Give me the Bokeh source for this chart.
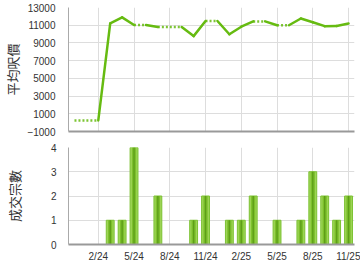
from bokeh.plotting import figure
from bokeh.layouts import column
from bokeh.models import FixedTicker, Range1d, ColumnDataSource
from bokeh.embed import file_html
from bokeh.resources import INLINE

months = ["12/23", "1/24", "2/24", "3/24", "4/24", "5/24", "6/24", "7/24", "8/24", "9/24",
          "10/24", "11/24", "12/24", "1/25", "2/25", "3/25", "4/25", "5/25", "6/25", "7/25",
          "8/25", "9/25", "10/25", "11/25"]
avg_price = [250, 250, 250, 11200, 11880, 11030, 11030, 10800, 10800, 10800,
             9770, 11480, 11480, 9980, 10830, 11430, 11430, 11000, 11000, 11760,
             11340, 10890, 10920, 11190]
counts = [0, 0, 0, 1, 1, 4, 0, 2, 0, 0, 1, 2, 0, 1, 1, 2, 0, 1, 0, 1, 3, 2, 1, 2]
price_ticks = [-1000, 1000, 3000, 5000, 7000, 9000, 11000, 13000]
count_ticks = [0, 1, 2, 3, 4]
x_tick_labels = ["2/24", "5/24", "8/24", "11/24", "2/25", "5/25", "8/25", "11/25"]

xs = list(range(len(months)))
x_ticks = [months.index(m) for m in x_tick_labels]
overrides = {t: l for t, l in zip(x_ticks, x_tick_labels)}

LABEL_FONT = "Liberation Sans"
CJK = "Noto Sans CJK TC"
GRID = "#dddddd"
GREEN = "#66bb11"


def style(p, ystand):
    p.background_fill_color = "white"
    p.border_fill_color = "white"
    p.outline_line_color = None
    p.xgrid.ticker = FixedTicker(ticks=x_ticks)
    p.xgrid.grid_line_color = GRID
    p.ygrid.grid_line_color = GRID
    p.yaxis.major_tick_in = 0
    p.yaxis.major_tick_out = 0
    p.yaxis.minor_tick_line_color = None
    p.yaxis.axis_line_color = "#aaaaaa"
    p.yaxis.major_label_text_font = LABEL_FONT
    p.yaxis.major_label_text_font_size = "10px"
    p.yaxis.major_label_text_color = "#333333"
    p.yaxis.major_label_standoff = ystand
    p.yaxis.axis_label_text_font = CJK
    p.yaxis.axis_label_text_font_size = "13px"
    p.yaxis.axis_label_text_font_style = "normal"
    p.yaxis.axis_label_text_color = "#333333"
    p.xaxis.major_tick_in = 0
    p.xaxis.major_tick_out = 0
    p.xaxis.minor_tick_line_color = None
    p.xaxis.axis_line_color = "#999999"
    p.xaxis.axis_line_width = 2


# Top: average price line
p1 = figure(width=360, height=138, output_backend="svg", toolbar_location=None,
            x_range=Range1d(-0.5, len(months) - 0.5), y_range=Range1d(-1000, 13000),
            min_border_left=65, min_border_right=6, min_border_top=7, min_border_bottom=7)
style(p1, 13)
p1.yaxis.ticker = FixedTicker(ticks=price_ticks)
p1.yaxis.axis_label = "平均呎價"
p1.yaxis.axis_label_standoff = 2
p1.xaxis.ticker = FixedTicker(ticks=[])
p1.xaxis.major_label_standoff = 0

solid = dict(x0=[], y0=[], x1=[], y1=[])
dotted = dict(x0=[], y0=[], x1=[], y1=[])
for i in range(len(xs) - 1):
    d = solid if counts[i + 1] > 0 else dotted
    d["x0"].append(xs[i]); d["y0"].append(avg_price[i])
    d["x1"].append(xs[i + 1]); d["y1"].append(avg_price[i + 1])
p1.segment("x0", "y0", "x1", "y1", source=ColumnDataSource(dotted),
           line_color=GREEN, line_width=2.5, line_dash="2 2", line_alpha=0.85)
p1.segment("x0", "y0", "x1", "y1", source=ColumnDataSource(solid),
           line_color=GREEN, line_width=2.5, line_cap="round")

# Bottom: transaction counts
p2 = figure(width=360, height=132, output_backend="svg", toolbar_location=None,
            x_range=Range1d(-0.5, len(months) - 0.5), y_range=Range1d(0, 4),
            min_border_left=65, min_border_right=6, min_border_top=9, min_border_bottom=26)
style(p2, 12)
p2.yaxis.ticker = FixedTicker(ticks=count_ticks)
p2.yaxis.axis_label = "成交宗數"
p2.yaxis.axis_label_standoff = 24
p2.xaxis.ticker = FixedTicker(ticks=x_ticks)
p2.xaxis.major_label_overrides = overrides
p2.xaxis.major_label_text_font = LABEL_FONT
p2.xaxis.major_label_text_font_size = "10px"
p2.xaxis.major_label_text_color = "#333333"
p2.xaxis.major_label_standoff = 6

bsrc = ColumnDataSource(dict(x=xs, top=counts))
p2.vbar(x="x", top="top", width=0.66, source=bsrc, fill_color="#9ed456", line_color="#7cc233", line_width=1)
p2.vbar(x="x", top="top", width=0.36, source=bsrc, fill_color="#7cc02c", line_color=None)
p2.vbar(x="x", top="top", width=0.12, source=bsrc, fill_color="#5e9e18", line_color=None)

layout = column(p1, p2, spacing=0)
open("out.html", "w").write(file_html(layout, INLINE))
